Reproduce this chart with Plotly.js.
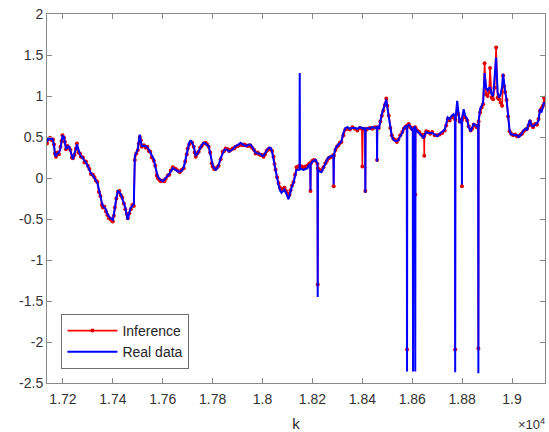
<!DOCTYPE html>
<html>
<head>
<meta charset="utf-8">
<script src="https://cdn.plot.ly/plotly-3.0.1.min.js"></script>
<style>html,body{margin:0;padding:0;background:#fff;}#chart{width:549px;height:432px;}</style>
</head>
<body>
<div id="chart"></div>
<script>
// sample index k (shared by both series)
const k = [
17136,17140,17148,17156,17160,17164,17168,17172,17178,17184,
17190,17194,17198,17204,17208,17212,17218,17224,17230,17236,
17240,17246,17252,17256,17262,17268,17272,17280,17286,17292,
17300,17306,17312,17320,17326,17332,17338,17344,17350,17356,
17360,17366,17372,17378,17384,17390,17396,17400,17404,17408,
17414,17420,17426,17432,17438,17444,17450,17456,17460,17466,
17472,17478,17484,17488,17494,17500,17504,17508,17512,17516,
17524,17532,17538,17544,17550,17556,17564,17570,17576,17580,
17586,17592,17600,17606,17612,17620,17626,17632,17640,17646,
17652,17660,17668,17676,17684,17690,17696,17700,17706,17712,
17718,17724,17728,17732,17738,17744,17750,17756,17764,17772,
17778,17784,17790,17796,17800,17806,17812,17818,17824,17832,
17840,17846,17852,17860,17866,17872,17880,17886,17892,17900,
17906,17912,17920,17926,17932,17940,17946,17952,17958,17966,
17972,17980,17986,17992,17998,18004,18010,18016,18020,18026,
18032,18038,18044,18048,18052,18058,18064,18070,18076,18082,
18088,18094,18100,18104,18108,18112,18118,18124,18130,18136,
18142,18148,18149,18150,18156,18164,18172,18180,18186,18191,
18192,18193,18200,18206,18212,18220,18221,18222,18228,18236,
18244,18252,18258,18264,18270,18276,18284,18285,18286,18292,
18298,18304,18310,18316,18324,18332,18340,18350,18360,18370,
18380,18390,18398,18400,18402,18406,18411,18412,18413,18420,
18430,18440,18450,18458,18459,18460,18466,18472,18478,18484,
18490,18496,18500,18506,18512,18518,18524,18532,18538,18544,
18552,18560,18566,18572,18578,18579,18580,18586,18592,18598,
18602,18603,18604,18611,18612,18613,18620,18628,18636,18644,
18647,18648,18649,18656,18664,18672,18680,18690,18700,18710,
18720,18730,18736,18742,18750,18758,18766,18771,18772,18773,
18780,18784,18790,18796,18798,18799,18800,18806,18812,18820,
18826,18834,18840,18846,18852,18858,18864,18865,18866,18872,
18878,18884,18890,18896,18902,18908,18912,18918,18924,18930,
18936,18942,18948,18954,18960,18964,18968,18972,18978,18984,
18990,18996,19004,19012,19020,19026,19034,19040,19046,19054,
19060,19066,19072,19078,19084,19092,19100,19106,19112,19118,
19124,19128,19132
];

// Real data (blue)
const realData = [
0.44,0.48,0.47,0.48,0.46,0.40,0.28,0.27,0.30,0.31,
0.36,0.47,0.51,0.50,0.42,0.36,0.37,0.39,0.33,0.27,
0.23,0.30,0.35,0.41,0.33,0.29,0.27,0.24,0.21,0.19,
0.14,0.10,0.06,0.03,0.00,-0.02,-0.06,-0.14,-0.24,-0.30,
-0.34,-0.36,-0.38,-0.44,-0.47,-0.49,-0.50,-0.51,-0.44,-0.34,
-0.24,-0.16,-0.17,-0.20,-0.26,-0.32,-0.36,-0.46,-0.51,-0.42,
-0.36,-0.34,-0.32,0.27,0.31,0.35,0.45,0.53,0.45,0.39,
0.39,0.39,0.37,0.35,0.31,0.27,0.23,0.14,0.05,0.02,
-0.01,-0.02,-0.04,-0.02,0.00,0.02,0.05,0.08,0.12,0.11,
0.10,0.08,0.08,0.09,0.13,0.22,0.31,0.35,0.43,0.46,
0.42,0.39,0.33,0.27,0.29,0.33,0.36,0.40,0.43,0.42,
0.40,0.39,0.30,0.20,0.16,0.12,0.10,0.12,0.16,0.24,
0.31,0.34,0.35,0.34,0.32,0.33,0.35,0.37,0.39,0.40,
0.41,0.43,0.41,0.40,0.39,0.40,0.41,0.41,0.38,0.33,
0.31,0.30,0.30,0.29,0.27,0.27,0.30,0.34,0.35,0.37,
0.37,0.32,0.23,0.14,0.07,-0.02,-0.09,-0.15,-0.18,-0.16,
-0.14,-0.18,-0.22,-0.26,-0.22,-0.16,-0.10,-0.06,0.02,0.10,
0.10,0.10,1.28,0.11,0.11,0.10,0.11,0.12,0.16,0.17,
-0.15,0.17,0.20,0.21,0.22,0.18,-1.45,0.10,0.08,0.07,
0.12,0.19,0.22,0.25,0.26,0.27,0.27,-0.08,0.28,0.36,
0.39,0.41,0.42,0.45,0.55,0.61,0.62,0.60,0.61,0.61,
0.60,0.62,0.61,0.61,0.60,0.61,0.60,-0.18,0.60,0.61,
0.60,0.62,0.61,0.62,0.20,0.63,0.60,0.71,0.78,0.84,
0.90,0.96,0.86,0.74,0.59,0.51,0.47,0.45,0.45,0.46,
0.51,0.55,0.61,0.63,0.62,-2.36,0.63,0.65,0.63,0.59,
0.58,-2.36,0.60,0.63,-2.36,0.60,0.57,0.55,0.52,0.49,
0.50,0.50,0.52,0.56,0.55,0.55,0.55,0.53,0.51,0.54,
0.56,0.59,0.66,0.74,0.72,0.76,0.78,0.74,-2.37,0.70,
0.94,0.80,0.67,0.70,0.72,-0.08,0.74,0.84,0.76,0.72,
0.62,0.57,0.62,0.66,0.65,0.63,0.65,-2.38,0.70,0.84,
0.88,0.92,1.28,1.10,1.07,1.10,1.10,1.02,1.00,1.20,
1.47,1.05,0.98,1.02,1.12,1.27,1.15,1.06,0.96,0.76,
0.58,0.53,0.53,0.52,0.52,0.50,0.52,0.55,0.58,0.60,
0.59,0.66,0.71,0.64,0.63,0.65,0.67,0.70,0.84,0.80,
0.90,0.92,0.90
];

// Inference (red)
const inference = [
0.42,0.47,0.49,0.46,0.47,0.41,0.30,0.26,0.31,0.29,
0.38,0.45,0.52,0.49,0.44,0.35,0.39,0.37,0.34,0.25,
0.24,0.28,0.36,0.42,0.31,0.30,0.26,0.25,0.19,0.20,
0.15,0.11,0.05,0.04,0.01,-0.03,-0.05,-0.17,-0.22,-0.33,
-0.36,-0.35,-0.41,-0.45,-0.49,-0.50,-0.52,-0.53,-0.46,-0.36,
-0.25,-0.17,-0.16,-0.21,-0.24,-0.31,-0.38,-0.44,-0.49,-0.43,
-0.38,-0.33,-0.34,0.22,0.30,0.34,0.42,0.50,0.46,0.38,
0.40,0.37,0.38,0.33,0.32,0.25,0.21,0.15,0.03,0.00,
-0.02,-0.04,-0.03,-0.04,-0.01,0.03,0.04,0.09,0.13,0.12,
0.11,0.09,0.07,0.10,0.12,0.20,0.29,0.36,0.41,0.44,
0.43,0.38,0.31,0.26,0.30,0.32,0.37,0.39,0.42,0.43,
0.41,0.38,0.31,0.18,0.14,0.11,0.11,0.13,0.15,0.23,
0.32,0.33,0.36,0.35,0.33,0.34,0.36,0.36,0.38,0.39,
0.40,0.41,0.40,0.41,0.40,0.39,0.40,0.39,0.37,0.34,
0.30,0.31,0.29,0.28,0.28,0.26,0.29,0.33,0.34,0.36,
0.35,0.33,0.26,0.17,0.10,0.01,-0.06,-0.12,-0.15,-0.13,
-0.12,-0.16,-0.19,-0.22,-0.20,-0.15,-0.09,-0.05,0.04,0.13,
0.14,0.15,0.15,0.14,0.14,0.13,0.14,0.15,0.17,0.18,
-0.16,0.18,0.21,0.22,0.21,0.17,-1.30,0.12,0.10,0.09,
0.13,0.18,0.21,0.24,0.25,0.26,0.28,-0.10,0.27,0.34,
0.38,0.40,0.43,0.44,0.52,0.59,0.60,0.59,0.62,0.60,
0.58,0.61,0.60,0.14,0.59,0.60,0.59,-0.16,0.58,0.60,
0.61,0.60,0.62,0.61,0.22,0.62,0.61,0.69,0.76,0.82,
0.89,0.97,0.88,0.76,0.61,0.52,0.48,0.46,0.44,0.47,
0.52,0.56,0.60,0.62,0.63,-2.09,0.64,0.66,0.62,0.60,
0.59,0.60,0.61,0.62,-0.20,0.61,0.58,0.56,0.53,0.50,
0.51,0.27,0.53,0.57,0.56,0.54,0.56,0.52,0.52,0.53,
0.55,0.58,0.64,0.72,0.70,0.74,0.76,0.72,-2.09,0.71,
0.80,0.78,0.69,0.71,0.70,-0.10,0.72,0.76,0.74,0.70,
0.63,0.58,0.60,0.65,0.64,0.62,0.64,-2.08,0.69,0.80,
0.86,0.90,1.40,1.02,1.00,1.05,1.34,0.98,0.96,1.10,
1.59,0.98,0.96,0.92,0.88,1.25,1.12,1.05,0.95,0.75,
0.57,0.54,0.52,0.53,0.51,0.51,0.53,0.54,0.57,0.59,
0.60,0.64,0.69,0.65,0.62,0.66,0.65,0.72,0.82,0.85,
0.88,0.98,0.92
];

const xTickVals = [17200,17400,17600,17800,18000,18200,18400,18600,18800,19000];
const xTickText = ['1.72','1.74','1.76','1.78','1.8','1.82','1.84','1.86','1.88','1.9'];
const yTickVals = [-2.5,-2,-1.5,-1,-0.5,0,0.5,1,1.5,2];
const yTickText = ['-2.5','-2','-1.5','-1','-0.5','0','0.5','1','1.5','2'];

const traces = [
  {
    x: k, y: inference, name: 'Inference', type: 'scatter', mode: 'lines+markers',
    line: {color: '#ff0000', width: 1.6},
    marker: {color: '#e00000', size: 4, symbol: 'circle'}
  },
  {
    x: k, y: realData, name: 'Real data', type: 'scatter', mode: 'lines',
    line: {color: '#0000ff', width: 2}
  }
];

const axisCommon = {
  showline: true, linecolor: '#8a8a8a', linewidth: 1,
  mirror: 'allticks', ticks: 'inside', ticklen: 5, tickcolor: '#8a8a8a', tickwidth: 1,
  showgrid: false, zeroline: false,
  tickfont: {size: 14, color: '#333333'}
};

const layout = {
  width: 549, height: 432,
  margin: {l: 47, r: 4, t: 14, b: 49, pad: 0},
  paper_bgcolor: '#ffffff', plot_bgcolor: '#ffffff',
  font: {family: '"Liberation Sans", Arial, Helvetica, sans-serif', size: 14, color: '#262626'},
  showlegend: true,
  legend: {
    x: 0.029, y: 0.038, xanchor: 'left', yanchor: 'bottom',
    bgcolor: '#ffffff', bordercolor: '#707070', borderwidth: 1,
    itemwidth: 50, font: {size: 14, color: '#262626'}, traceorder: 'normal'
  },
  xaxis: Object.assign({}, axisCommon, {
    range: [17136, 19132], tickmode: 'array', tickvals: xTickVals, ticktext: xTickText,
    ticklabelstandoff: 3,
    title: {text: 'k', font: {size: 15, color: '#262626'}, standoff: 14}
  }),
  yaxis: Object.assign({}, axisCommon, {
    range: [-2.5, 2], tickmode: 'array', tickvals: yTickVals, ticktext: yTickText
  }),
  annotations: [{
    text: '×10<sup>4</sup>', xref: 'paper', yref: 'paper', x: 1.005, y: -0.11,
    xanchor: 'right', yanchor: 'middle', showarrow: false,
    font: {size: 13, color: '#333333'}
  }]
};

Plotly.newPlot('chart', traces, layout, {staticPlot: true, displayModeBar: false});
</script>
</body>
</html>
